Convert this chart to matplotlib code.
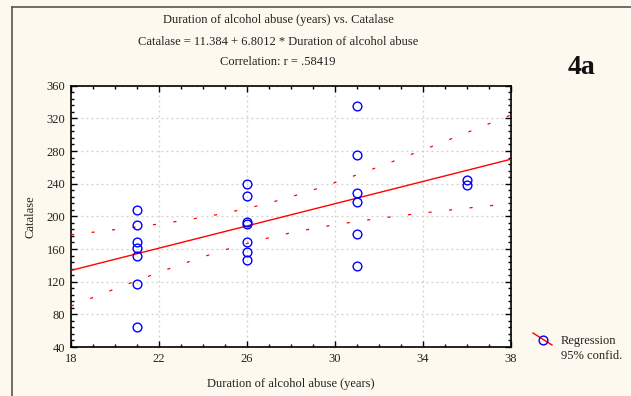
import numpy as np
import matplotlib
matplotlib.use("Agg")
import matplotlib.pyplot as plt
from matplotlib.lines import Line2D
from matplotlib.ticker import MultipleLocator

plt.rcParams['font.family'] = ['Liberation Serif', 'DejaVu Serif']

# Data
duration = [21, 21, 21, 21, 21, 21, 21,
            26, 26, 26, 26, 26, 26, 26,
            31, 31, 31, 31, 31, 31,
            36, 36]
catalase = [208, 190, 169, 161, 152, 117, 64.5,
            239.5, 224.5, 193, 190.5, 168, 156, 146.5,
            334.7, 274.7, 228, 217, 178, 139,
            245, 239]

title_lines = ["Duration of alcohol abuse (years) vs. Catalase",
               "Catalase = 11.384 + 6.8012 * Duration of alcohol abuse",
               "Correlation: r = .58419"]
xticks = [18, 22, 26, 30, 34, 38]
yticks = [40, 80, 120, 160, 200, 240, 280, 320, 360]
intercept, slope = 11.384, 6.8012

x = np.array(duration, dtype=float)
y = np.array(catalase, dtype=float)
n = len(x)

W, H = 631, 396
bg = '#fdf9ee'
txtc = '#222222'
fig = plt.figure(figsize=(W/100, H/100), dpi=100, facecolor=bg)
# figure frame lines (left & top)
fig.add_artist(Line2D([12/W, 12/W], [0, 1 - 7/H], color='#555555', lw=1.2,
                      transform=fig.transFigure))
fig.add_artist(Line2D([12/W, 1], [1 - 7/H, 1 - 7/H], color='#555555', lw=1.2,
                      transform=fig.transFigure))

ax = fig.add_axes([71/W, 1 - 347/H, (510.5 - 71)/W, (347 - 85.7)/H])
ax.set_facecolor('white')

xs = np.linspace(18, 38, 200)
fit = intercept + slope * xs
resid = y - (intercept + slope * x)
s = np.sqrt(np.sum(resid**2) / (n - 2))
tval = 2.086
half = tval * s * np.sqrt(1/n + (xs - x.mean())**2 / np.sum((x - x.mean())**2))

ax.plot(xs, fit, color='red', lw=1.0, zorder=3)
ax.plot(xs, fit + half, color='red', lw=0.9, dashes=(2.5, 14), zorder=3)
ax.plot(xs, fit - half, color='red', lw=0.9, dashes=(2.5, 14), zorder=3)
ax.plot(x, y, 'o', ms=6.3, mfc='none', mec='blue', mew=1.0, zorder=4)

ax.set_xlim(18, 38)
ax.set_ylim(40, 360)
ax.set_xticks(xticks)
ax.set_yticks(yticks)
ax.xaxis.set_minor_locator(MultipleLocator(1))
ax.yaxis.set_minor_locator(MultipleLocator(8))
ax.tick_params(which='both', direction='in', top=True, right=True, labelsize=9,
               width=1.0, colors='black')
ax.tick_params(which='major', length=4, pad=4)
ax.tick_params(which='minor', length=2)
for lbl in ax.get_xticklabels() + ax.get_yticklabels():
    lbl.set_color(txtc)
ax.grid(True, which='major', color='#cfcfcf', linestyle=(0, (1.5, 2.5)), lw=0.9)
for sp in ax.spines.values():
    sp.set_linewidth(1.2)

ax.set_xlabel("Duration of alcohol abuse (years)", fontsize=9, labelpad=10, color=txtc)
ax.set_ylabel("Catalase", fontsize=9, labelpad=7, color=txtc)

for yy, t in zip([20, 42, 62], title_lines):
    fig.text(278/W, 1 - yy/H, t, ha='center', va='center', fontsize=9, color=txtc)
fig.text(582/W, 1 - 67/H, "4a", ha='center', va='center', fontsize=20,
         fontweight='bold', color='#111111')

# legend (drawn by hand: diagonal line with circle marker)
fig.add_artist(Line2D([533/W, 552/W], [1 - 333/H, 1 - 345/H], color='red', lw=1.0,
                      transform=fig.transFigure))
fig.add_artist(Line2D([543/W], [1 - 340/H], marker='o', ms=6.3, mfc='none', mec='blue',
                      mew=1.0, lw=0, transform=fig.transFigure))
fig.text(561/W, 1 - 341/H, "Regression", ha='left', va='center', fontsize=9, color=txtc)
fig.text(561/W, 1 - 356/H, "95% confid.", ha='left', va='center', fontsize=9, color=txtc)

fig.savefig("out.png", dpi=100, facecolor=bg)
